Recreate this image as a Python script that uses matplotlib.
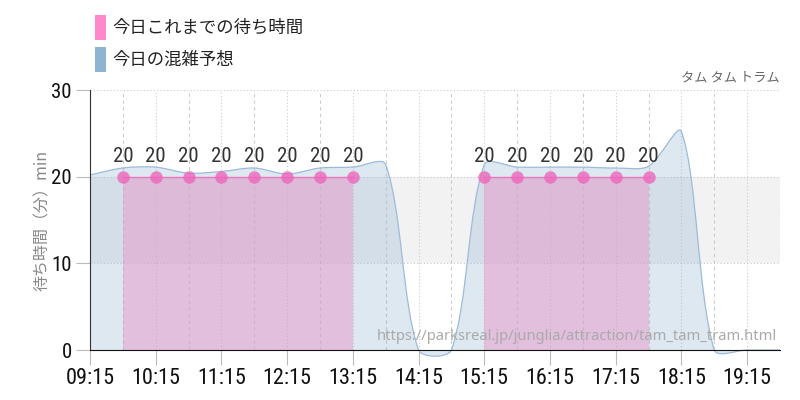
import numpy as np
import matplotlib
matplotlib.use('Agg')
import matplotlib.pyplot as plt
from matplotlib.path import Path
from matplotlib.patches import PathPatch, Rectangle

plt.rcParams['font.family'] = ['Noto Sans CJK JP', 'DejaVu Sans']

# 30-minute slots, 09:15 .. 19:45
times = ['09:15', '09:45', '10:15', '10:45', '11:15', '11:45', '12:15', '12:45',
         '13:15', '13:45', '14:15', '14:45', '15:15', '15:45', '16:15', '16:45',
         '17:15', '17:45', '18:15', '18:45', '19:15', '19:45']
forecast = [20.2, 21.0, 21.1, 20.4, 20.6, 21.0, 20.3, 21.0,
            21.1, 21.4, 0, 0, 21.4, 21.1, 21.1, 21.1,
            21.0, 21.2, 25.2, 0, 0, 0]
actual = [None, 20, 20, 20, 20, 20, 20, 20,
          20, None, None, None, 20, 20, 20, 20,
          20, 20, None, None, None, None]
tick_labels = ['09:15', '10:15', '11:15', '12:15', '13:15', '14:15',
               '15:15', '16:15', '17:15', '18:15', '19:15']

title = 'タム タム トラム'
legend_labels = ['今日これまでの待ち時間', '今日の混雑予想']
ylabel = '待ち時間（分）min'
url = 'https://parksreal.jp/junglia/attraction/tam_tam_tram.html'


def hours(s):
    h, m = s.split(':')
    return int(h) + int(m) / 60


x = np.array([hours(t) for t in times])
fy = np.array(forecast, dtype=float)

cond = ['Roboto Condensed', 'Liberation Sans Narrow', 'DejaVu Sans']

fig = plt.figure(figsize=(8, 4), dpi=100)
ax = fig.add_axes([0.1125, 0.125, 0.8625, 0.65])
ax.set_xlim(9.25, 19.75)
ax.set_ylim(0, 30)

# grey band between 10 and 20
ax.axhspan(10, 20, color='#f2f2f2', zorder=0, lw=0)

# grid: dotted on the hour ticks, dashed on the half hours
for t in x:
    on_tick = abs(((t - 9.25) % 1)) < 1e-6
    ls = (0, (1, 2)) if on_tick else (0, (3, 3))
    ax.axvline(t, color='#cccccc', lw=0.8, ls=ls, zorder=0.5)
for v in (10, 20, 30):
    ax.axhline(v, color='#c8c8c8', lw=0.8, ls=(0, (1, 2)), zorder=0.5)

# smooth forecast area (tension spline, computed in pixel space)
sx, sy = 65.7, 8.667
px = x * sx
py = fy * sy
tension = 0.3
cps = []
n = len(px)
for i in range(n):
    p0 = (px[max(i - 1, 0)], py[max(i - 1, 0)])
    p1 = (px[i], py[i])
    p2 = (px[min(i + 1, n - 1)], py[min(i + 1, n - 1)])
    d01 = np.hypot(p1[0] - p0[0], p1[1] - p0[1])
    d12 = np.hypot(p2[0] - p1[0], p2[1] - p1[1])
    tot = d01 + d12 if d01 + d12 else 1
    fa = tension * d01 / tot
    fb = tension * d12 / tot
    prev_cp = (p1[0] - fa * (p2[0] - p0[0]), p1[1] - fa * (p2[1] - p0[1]))
    next_cp = (p1[0] + fb * (p2[0] - p0[0]), p1[1] + fb * (p2[1] - p0[1]))
    cps.append((prev_cp, next_cp))

curve = [(px[0] / sx, py[0] / sy)]
codes = [Path.MOVETO]
for i in range(n - 1):
    a = cps[i][1]
    b = cps[i + 1][0]
    curve += [(a[0] / sx, a[1] / sy), (b[0] / sx, b[1] / sy), (px[i + 1] / sx, py[i + 1] / sy)]
    codes += [Path.CURVE4] * 3

fill_verts = [(x[0], 0)] + curve + [(x[-1], 0), (x[0], 0)]
fill_codes = [Path.MOVETO, Path.LINETO] + codes[1:] + [Path.LINETO, Path.CLOSEPOLY]
ax.add_patch(PathPatch(Path(fill_verts, fill_codes), facecolor='#8fb3d3', alpha=0.3,
                       lw=0, zorder=1, clip_on=False))
ax.add_patch(PathPatch(Path(curve, codes), facecolor='none', edgecolor='#9dbbd8',
                       lw=0.9, zorder=1.1, clip_on=False))

# actual waits
ay = np.array([np.nan if v is None else v for v in actual], dtype=float)
mask = ~np.isnan(ay)
ax.fill_between(x, 0, np.nan_to_num(ay), where=mask, color='#e798ca', alpha=0.5,
                lw=0, zorder=2, interpolate=False)
ax.plot(x, ay, color='#ee77bb', lw=1, zorder=3)
ax.plot(x[mask], ay[mask], 'o', ms=9, color='#ee66bb', alpha=0.8, mec='none', zorder=4)
for t, v in zip(x[mask], ay[mask]):
    ax.annotate(f'{v:.0f}', (t, v), xytext=(0, 14.5), textcoords='offset points',
                ha='center', va='center', fontsize=15, color='#333333', family=cond)

# axes styling
for s in ('top', 'right'):
    ax.spines[s].set_visible(False)
ax.spines['left'].set_color('#333333')
ax.spines['bottom'].set_color('#111111')
ax.set_xticks([hours(t) for t in tick_labels])
ax.set_xticklabels(tick_labels, family=cond, fontsize=16, color='#111111')
ax.set_yticks([0, 10, 20, 30])
ax.set_yticklabels(['0', '10', '20', '30'], family=cond, fontsize=15, color='#111111')
ax.tick_params(axis='x', length=11, color='#bbbbbb', pad=2)
ax.tick_params(axis='y', length=10, color='#bbbbbb', pad=3)
ax.set_ylabel(ylabel, color='#888888', fontsize=11.5, labelpad=0)

ax.text(1.0, 1.045, title, transform=ax.transAxes, ha='right', va='center',
        fontsize=9.5, color='#666666')
ax.text(0.995, 0.05, url, transform=ax.transAxes, ha='right', va='center',
        fontsize=10.6, color='#aaaaaa', family=['Noto Sans', 'DejaVu Sans'], zorder=5)

# legend
leg_colors = ['#ff88cc', '#8fb3d3']
for i, (lab, c) in enumerate(zip(legend_labels, leg_colors)):
    top = 15 + i * 32
    fig.add_artist(Rectangle((95 / 800, 1 - (top + 25) / 400), 11 / 800, 25 / 400,
                             transform=fig.transFigure, color=c, lw=0))
    fig.text(112 / 800, 1 - (top + 13) / 400, lab, ha='left', va='center',
             fontsize=12.5, color='#222222')

fig.savefig('out.png', dpi=100)
